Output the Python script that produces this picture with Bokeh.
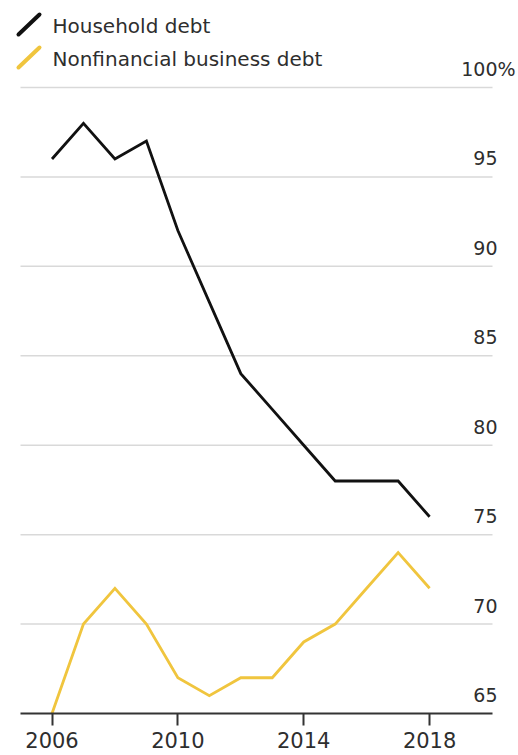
from bokeh.plotting import figure
from bokeh.models import Range1d, FixedTicker
from bokeh.core.properties import value
from bokeh.embed import file_html
from bokeh.resources import INLINE

# Debt as a share of GDP, annual
years = [2006, 2007, 2008, 2009, 2010, 2011, 2012, 2013, 2014, 2015, 2016, 2017, 2018]
household_debt = [96, 98, 96, 97, 92, 88, 84, 82, 80, 78, 78, 78, 76]
business_debt = [65, 70, 72, 70, 67, 66, 67, 67, 69, 70, 72, 74, 72]

x_ticks = [2006, 2010, 2014, 2018]
y_ticks = [100, 95, 90, 85, 80, 75, 70, 65]
y_tick_labels = ["100", "95", "90", "85", "80", "75", "70", "65"]

series_names = ["Household debt", "Nonfinancial business debt"]
series_colors = ["#111111", "#f0c53e"]

FONT = "DejaVu Sans"
TEXT = "#2e2e2e"

W, H = 518, 755
BOTTOM = 40                      # room for the year labels
FRAME_H = H - BOTTOM
PX_PER_YEAR = 31.467
PX_PER_UNIT = 17.886
BASE_PX = 713                    # pixel row of the 65 baseline

X0 = 2006 - 51.5 / PX_PER_YEAR
X1 = X0 + W / PX_PER_YEAR
Y0 = 65 - (FRAME_H - BASE_PX) / PX_PER_UNIT
Y1 = 65 + BASE_PX / PX_PER_UNIT


def sx(px):
    return X0 + px / PX_PER_YEAR


def sy(py):
    return 65 + (BASE_PX - py) / PX_PER_UNIT


p = figure(width=W, height=H, x_range=Range1d(X0, X1), y_range=Range1d(Y0, Y1),
           output_backend="svg", toolbar_location=None, y_axis_location=None,
           min_border_left=0, min_border_right=0, min_border_top=0,
           min_border_bottom=BOTTOM)
p.outline_line_color = None
p.background_fill_color = "white"
p.border_fill_color = "white"
p.xgrid.visible = False
p.ygrid.visible = False

# horizontal reference lines
grid_vals = y_ticks[:-1]
p.segment(x0=[sx(20)] * len(grid_vals), x1=[sx(492)] * len(grid_vals),
          y0=grid_vals, y1=grid_vals, line_color="#d9d9d9", line_width=1.5)

# the two series
for vals, color in zip([household_debt, business_debt], series_colors):
    p.line(years, vals, line_color=color, line_width=2.8, line_join="miter")

# baseline at 65
p.segment(x0=[sx(20)], x1=[sx(492)], y0=[y_ticks[-1]], y1=[y_ticks[-1]],
          line_color="#333333", line_width=2)

# year ticks and labels
ax = p.xaxis[0]
ax.ticker = FixedTicker(ticks=x_ticks)
ax.axis_line_color = None
ax.major_tick_line_color = "#333333"
ax.major_tick_line_width = 2
ax.major_tick_out = 10
ax.major_tick_in = 2
ax.minor_tick_line_color = None
ax.major_label_standoff = 6
ax.major_label_text_font = FONT
ax.major_label_text_font_size = "21px"
ax.major_label_text_color = TEXT

# value labels sitting above the reference lines at the right end
label_x = sx(497)
label_y = [v + 18.5 / PX_PER_UNIT for v in y_ticks]
p.text(x=[label_x] * len(y_ticks), y=label_y, text=y_tick_labels,
       text_align="right", text_baseline="middle",
       text_font=value(FONT), text_font_size="19px", text_color=TEXT)
p.text(x=[label_x], y=[label_y[0]], text=["%"],
       text_align="left", text_baseline="middle",
       text_font=value(FONT), text_font_size="19px", text_color=TEXT)

# legend: slanted key strokes with names
for i, (name, color) in enumerate(zip(series_names, series_colors)):
    dy = 33 * i
    p.segment(x0=[sx(18)], y0=[sy(34 + dy)], x1=[sx(39)], y1=[sy(14 + dy)],
              line_color=color, line_width=4, line_cap="round")
    p.text(x=[sx(52)], y=[sy(25 + dy)], text=[name],
           text_align="left", text_baseline="middle",
           text_font=value(FONT), text_font_size="20px", text_color=TEXT)

open("out.html", "w").write(file_html(p, INLINE))
